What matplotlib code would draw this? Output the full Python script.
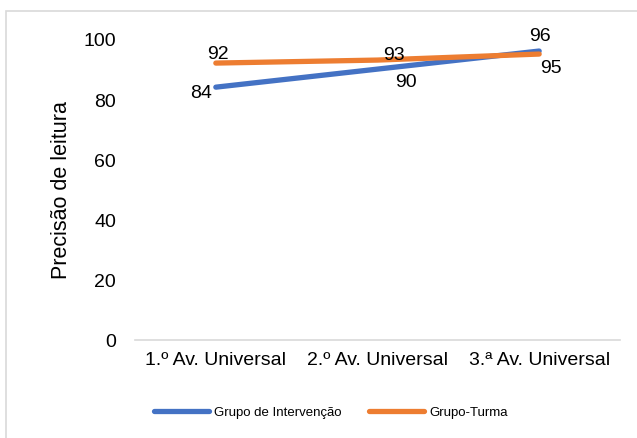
import matplotlib
matplotlib.use("Agg")
import matplotlib.pyplot as plt
from matplotlib.patches import Rectangle

categories = ["1.º Av. Universal", "2.º Av. Universal", "3.ª Av. Universal"]
grupo_intervencao = [84, 90, 96]
grupo_turma = [92, 93, 95]
yticks = [0, 20, 40, 60, 80, 100]

FONT = ["Liberation Sans", "DejaVu Sans"]
BLUE = "#4472C4"
ORANGE = "#ED7D31"

fig = plt.figure(figsize=(6.37, 4.39), dpi=100)
fig.patches.append(Rectangle((6/637, -0.05), 1.1, 1 - 12/439 + 0.05, transform=fig.transFigure,
                             fill=False, edgecolor="#d9d9d9", linewidth=1.2))

ax = fig.add_axes([135/637, 1 - 341/439, (620 - 135)/637, (341 - 40)/439])
x = list(range(len(categories)))
ax.plot(x, grupo_intervencao, color=BLUE, lw=3.8, solid_capstyle="round", label="Grupo de Intervenção")
ax.plot(x, grupo_turma, color=ORANGE, lw=3.8, solid_capstyle="round", label="Grupo-Turma")

ax.set_xlim(-0.5, 2.5)
ax.set_ylim(0, 100)
ax.set_yticks(yticks)
ax.set_xticks(x)
ax.set_xticklabels(categories)
for lab in ax.get_xticklabels() + ax.get_yticklabels():
    lab.set_fontfamily(FONT)
    lab.set_fontsize(14)
    lab.set_color("#000000")
ax.tick_params(axis="both", length=0)
ax.tick_params(axis="x", pad=8)
ax.tick_params(axis="y", pad=13.7)
for s in ["top", "right", "left"]:
    ax.spines[s].set_visible(False)
ax.spines["bottom"].set_color("#d9d9d9")
ax.spines["bottom"].set_linewidth(1.2)

ax.set_ylabel("Precisão de leitura", fontfamily=FONT, fontsize=15.5)
ax.yaxis.set_label_coords(-0.130, 0.5)

fs = 14
def lab(vals, i, dx, dy, ha="center"):
    ax.annotate(str(vals[i]), (x[i], vals[i]), xytext=(dx, dy), textcoords="offset pixels",
                ha=ha, va="baseline", fontfamily=FONT, fontsize=fs)

lab(grupo_intervencao, 0, -4, -10, "right")
lab(grupo_intervencao, 1, 28, -17)
lab(grupo_intervencao, 2, 1, 11)
lab(grupo_turma, 0, 2.5, 5)
lab(grupo_turma, 1, 16.5, 1)
lab(grupo_turma, 2, 12, -18)

leg = fig.legend(loc="center", bbox_to_anchor=(331/637, 1 - 413/439), ncol=2, frameon=False,
                 prop={"family": FONT, "size": 9.5}, handlelength=4.17, handletextpad=0.38,
                 columnspacing=2.05)
for line in leg.get_lines():
    line.set_linewidth(3.8)
    line.set_solid_capstyle("round")

fig.savefig("out.png", dpi=100)
